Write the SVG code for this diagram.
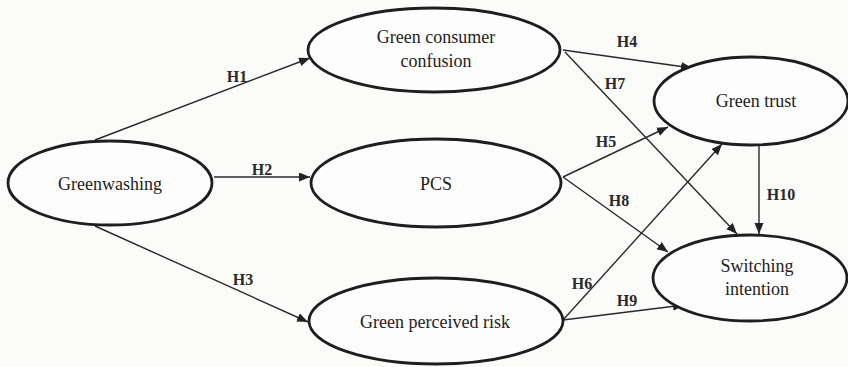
<svg xmlns="http://www.w3.org/2000/svg" width="848" height="367" viewBox="0 0 848 367">
<defs>
<marker id="arr" markerUnits="userSpaceOnUse" markerWidth="12" markerHeight="10" refX="11" refY="4.5" orient="auto">
<path d="M0,0 L11,4.5 L0,9 z" fill="#222"/>
</marker>
<style>
.node ellipse{fill:#fdfdfd;stroke:#1e1e1e;stroke-width:2.8}
.node text{font-family:"Liberation Serif","Times New Roman",serif;font-size:18px;fill:#222;text-anchor:middle}
.edge line{stroke:#2a2a2a;stroke-width:1.4;marker-end:url(#arr)}
.lbl{font-family:"Liberation Serif","Times New Roman",serif;font-size:16px;font-weight:bold;fill:#2a2a2a;text-anchor:middle}
</style>
</defs>
<rect width="848" height="367" fill="#fbfbfa"/>
<g id="connectors" class="edge">
<line x1="95" y1="140" x2="310" y2="58"/>
<line x1="214" y1="177" x2="310" y2="177"/>
<line x1="95" y1="226" x2="308" y2="322"/>
<line x1="563" y1="50" x2="692" y2="68"/>
<line x1="565" y1="52" x2="737" y2="234"/>
<line x1="563" y1="177" x2="668" y2="127"/>
<line x1="563" y1="177" x2="668" y2="252"/>
<line x1="563" y1="320" x2="722" y2="144"/>
<line x1="563" y1="320" x2="684" y2="305"/>
<line x1="759" y1="144" x2="759" y2="234"/>
</g>
<g id="labels">
<text class="lbl" x="237" y="82">H1</text>
<text class="lbl" x="262" y="175">H2</text>
<text class="lbl" x="243" y="285">H3</text>
<text class="lbl" x="627" y="47">H4</text>
<text class="lbl" x="606" y="147">H5</text>
<text class="lbl" x="582" y="289">H6</text>
<text class="lbl" x="615" y="89">H7</text>
<text class="lbl" x="619" y="206">H8</text>
<text class="lbl" x="627" y="306">H9</text>
<text class="lbl" x="781" y="200">H10</text>
</g>
<g id="greenwashing" class="node">
<ellipse cx="110" cy="183" rx="102" ry="42"/>
<text x="110" y="190">Greenwashing</text>
</g>
<g id="confusion" class="node">
<ellipse cx="434" cy="50" rx="126" ry="42"/>
<text x="436" y="43">Green consumer</text>
<text x="436" y="67">confusion</text>
</g>
<g id="pcs" class="node">
<ellipse cx="436" cy="183" rx="125" ry="44"/>
<text x="436" y="190">PCS</text>
</g>
<g id="risk" class="node">
<ellipse cx="436" cy="321" rx="127" ry="43"/>
<text x="435" y="328">Green perceived risk</text>
</g>
<g id="trust" class="node">
<ellipse cx="751" cy="101" rx="97" ry="44"/>
<text x="756" y="107">Green trust</text>
</g>
<g id="switching" class="node">
<ellipse cx="750" cy="278" rx="97" ry="43"/>
<text x="757" y="272">Switching</text>
<text x="757" y="295">intention</text>
</g>
</svg>
